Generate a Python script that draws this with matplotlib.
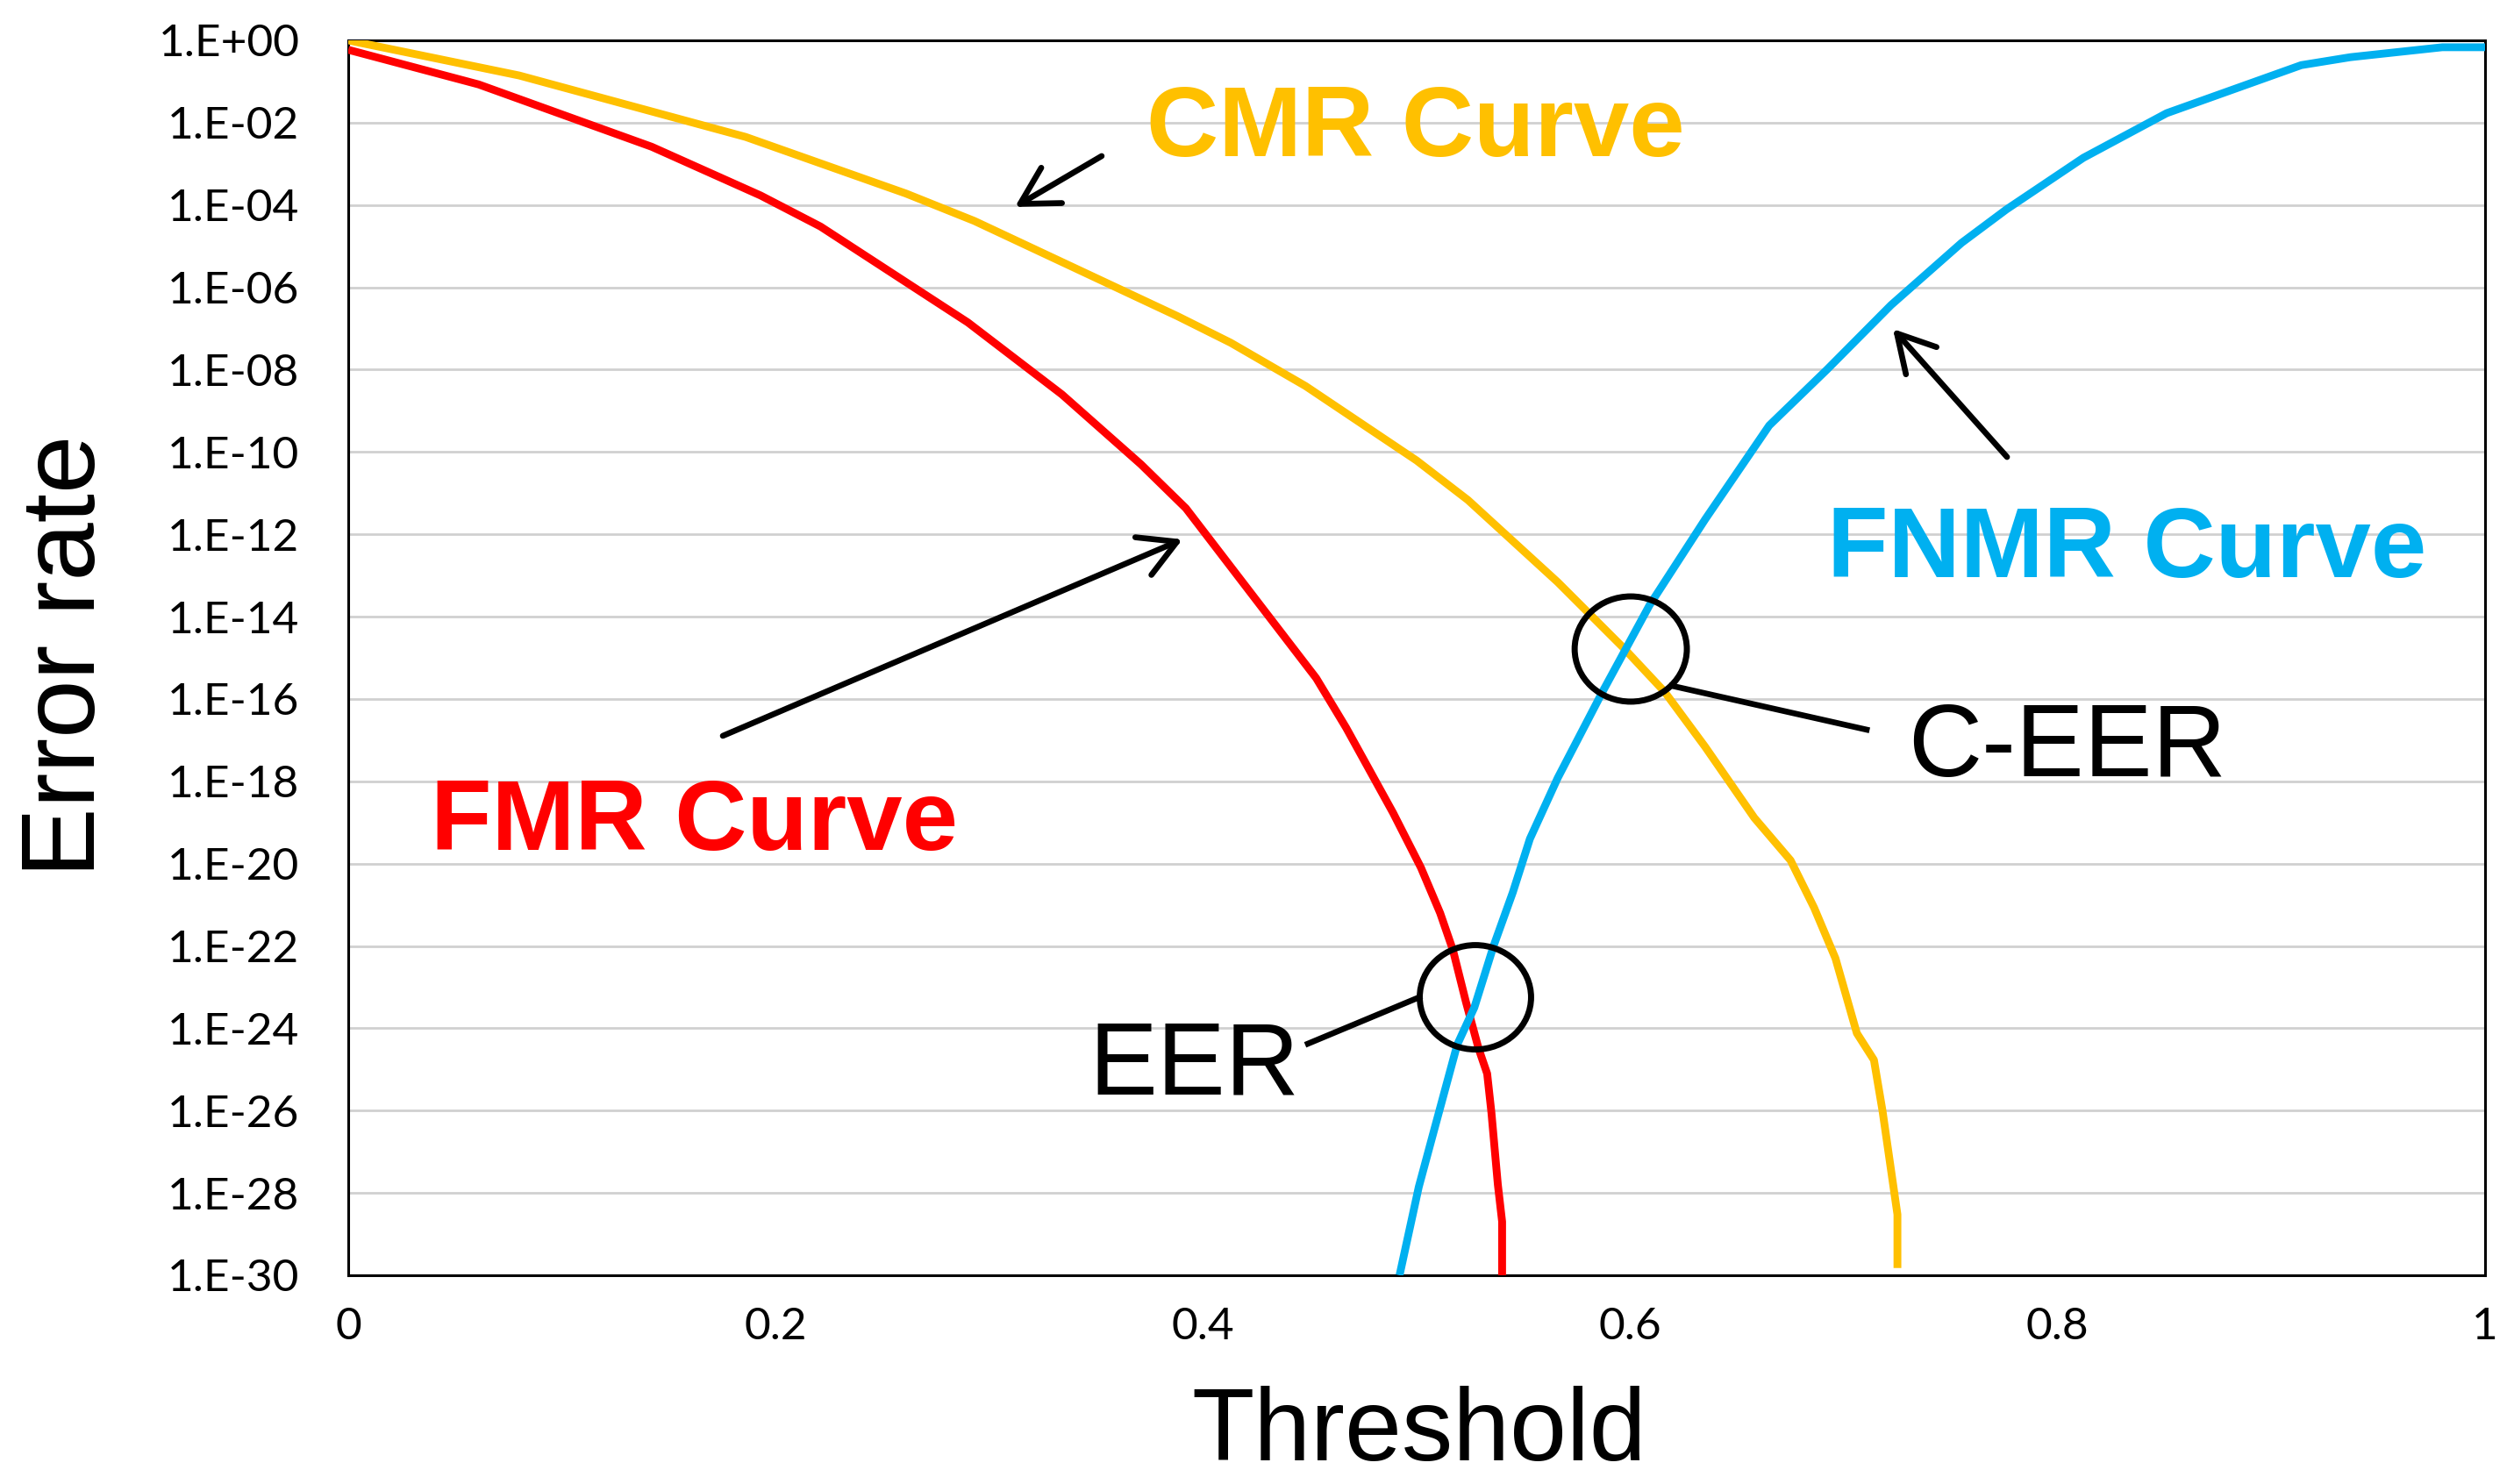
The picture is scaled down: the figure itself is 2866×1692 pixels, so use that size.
import math
import matplotlib
matplotlib.use("Agg")
import matplotlib.pyplot as plt
from matplotlib.patches import Ellipse
from matplotlib.ticker import FixedLocator, FuncFormatter

# ── Data (threshold vs. error rate, log scale) ────────────────────────────────
fmr_x = [0.0, 0.061, 0.142, 0.193, 0.221, 0.290, 0.334, 0.371, 0.392, 0.422,
         0.453, 0.467, 0.489, 0.502, 0.511, 0.517, 0.523, 0.529, 0.533, 0.535,
         0.538, 0.540, 0.540]
fmr_y = [5.9e-1, 8.5e-2, 2.6e-3, 1.7e-4, 3.0e-5, 1.4e-7, 2.5e-9, 5.0e-11,
         4.3e-12, 4.0e-14, 3.2e-16, 2.0e-17, 1.7e-19, 8.0e-21, 6.3e-22,
         7.9e-23, 4.5e-24, 3.2e-25, 7.9e-26, 8.9e-27, 1.6e-28, 2.0e-29, 1.0e-32]

cmr_x = [0.0, 0.080, 0.186, 0.261, 0.293, 0.388, 0.413, 0.448, 0.500, 0.524,
         0.566, 0.597, 0.616, 0.635, 0.658, 0.675, 0.686, 0.696, 0.706, 0.714,
         0.718, 0.725, 0.725]
cmr_y = [1.0, 1.4e-1, 4.5e-3, 1.9e-4, 4.1e-5, 2.0e-7, 4.5e-8, 4.0e-9, 6.2e-11,
         6.8e-12, 6.9e-14, 1.7e-15, 1.5e-16, 6.9e-18, 1.3e-19, 1.2e-20,
         8.5e-22, 5.0e-23, 7.6e-25, 1.7e-25, 1.0e-26, 3.0e-29, 1.5e-30]

fnmr_x = [0.492, 0.501, 0.507, 0.519, 0.527, 0.536, 0.545, 0.553, 0.566, 0.587,
          0.609, 0.635, 0.665, 0.692, 0.722, 0.755, 0.776, 0.812, 0.851, 0.914,
          0.937, 0.980, 1.0]
fnmr_y = [1.0e-30, 1.4e-28, 2.0e-27, 4.0e-25, 3.2e-24, 1.0e-22, 2.0e-21,
          4.0e-20, 1.2e-18, 1.5e-16, 1.9e-14, 2.3e-12, 4.4e-10, 1.0e-8, 3.7e-7,
          1.2e-5, 7.8e-5, 1.4e-3, 1.7e-2, 2.5e-1, 3.9e-1, 6.8e-1, 6.8e-1]

y_exponents = list(range(0, -31, -2))
x_ticks = [0, 0.2, 0.4, 0.6, 0.8, 1]

RED = "#FF0000"
YELLOW = "#FFC000"
BLUE = "#00B0F0"
ARIAL = "Liberation Sans"

# ── Figure ────────────────────────────────────────────────────────────────────
W, H = 2866, 1692
fig = plt.figure(figsize=(W / 200, H / 200), dpi=200)
ax = fig.add_axes([397 / W, 1 - 1454 / H, 2436 / W, 1408 / H])

line_kw = dict(lw=3.2, solid_joinstyle="round", solid_capstyle="butt", zorder=3)
ax.plot(fmr_x, fmr_y, color=RED, **line_kw)
ax.plot(cmr_x, cmr_y, color=YELLOW, **line_kw)
ax.plot(fnmr_x, fnmr_y, color=BLUE, **line_kw)

ax.set_yscale("log")
ax.set_ylim(1e-30, 1)
ax.set_xlim(0, 1)
ax.yaxis.set_major_locator(FixedLocator([10.0 ** e for e in y_exponents]))
ax.yaxis.set_minor_locator(FixedLocator([]))
ax.yaxis.set_major_formatter(FuncFormatter(
    lambda v, pos: "1.E%+03d" % round(math.log10(v))))
ax.set_xticks(x_ticks)
ax.xaxis.set_major_formatter(FuncFormatter(lambda v, pos: "%g" % v))

ax.grid(axis="y", color="#D0D0D0", lw=1.0, zorder=0)
ax.tick_params(axis="both", length=0, labelsize=18.5)
ax.tick_params(axis="y", pad=20)
ax.tick_params(axis="x", pad=13)
for lab in ax.get_xticklabels() + ax.get_yticklabels():
    lab.set_family("Lato")
for s in ax.spines.values():
    s.set_color("black")
    s.set_linewidth(1.1)

# Axis titles
fig.text(1618 / W, 1 - 1665 / H, "Threshold", ha="center", va="baseline",
         fontsize=42, family=ARIAL)
fig.text(108 / W, 1 - 748 / H, "Error rate", ha="center", va="baseline",
         rotation=90, rotation_mode="anchor", fontsize=43, family=ARIAL)

# Curve labels
tr = ax.transAxes
ax.text(0.3736, 0.906, "CMR Curve", transform=tr, color=YELLOW, fontsize=41,
        fontweight="bold", family=ARIAL, va="baseline")
ax.text(0.692, 0.5653, "FNMR Curve", transform=tr, color=BLUE, fontsize=41,
        fontweight="bold", family=ARIAL, va="baseline")
ax.text(0.0386, 0.3445, "FMR Curve", transform=tr, color=RED, fontsize=41,
        fontweight="bold", family=ARIAL, va="baseline")
ax.text(0.730, 0.4041, "C-EER", transform=tr, color="black", fontsize=42,
        family=ARIAL, va="baseline")
ax.text(0.3465, 0.1470, "EER", transform=tr, color="black", fontsize=42,
        family=ARIAL, va="baseline")

# Arrows pointing at the curves
arrow_kw = dict(arrowstyle="->,head_length=0.75,head_width=0.42",
                color="black", lw=2.4, mutation_scale=20,
                shrinkA=0, shrinkB=0, capstyle="round", joinstyle="round")
for tail, head in [((0.3526, 0.9063), (0.312, 0.8651)),
                   ((0.1753, 0.4368), (0.3904, 0.5959)),
                   ((0.7763, 0.6626), (0.7229, 0.7663))]:
    ax.annotate("", xy=head, xytext=tail, xycoords=tr, textcoords=tr,
                arrowprops=arrow_kw, zorder=5)

# Circles marking the crossing points + leader lines
for (cx, cy), (w, h) in [((0.6002, 0.5071), (0.0525, 0.0852)),
                         ((0.5275, 0.2251), (0.0521, 0.0845))]:
    ax.add_patch(Ellipse((cx, cy), w, h, transform=tr, fill=False,
                         ec="black", lw=2.5, zorder=5))
ax.plot([0.7106, 0.6195], [0.4418, 0.4773], transform=tr, color="black",
        lw=2.4, zorder=5)
ax.plot([0.4491, 0.5012], [0.1875, 0.2251], transform=tr, color="black",
        lw=2.4, zorder=5)

fig.savefig("out.png", dpi=200)
